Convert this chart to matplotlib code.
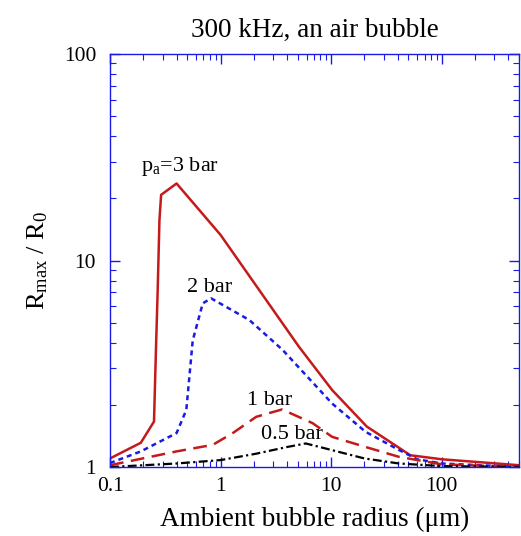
import numpy as np
import matplotlib
matplotlib.use('Agg')
import matplotlib.pyplot as plt
from matplotlib.ticker import LogLocator, FixedLocator, NullFormatter

plt.rcParams['font.family'] = 'Liberation Serif'
plt.rcParams['mathtext.fontset'] = 'custom'
plt.rcParams['mathtext.rm'] = 'Liberation Serif'
plt.rcParams['mathtext.it'] = 'Liberation Serif:italic'

# ambient radius (um) vs Rmax/R0 for each acoustic pressure amplitude
r_3bar = [0.1, 0.19, 0.25, 0.26, 0.27, 0.28, 0.29, 0.40, 1.0, 5.1, 10.2, 21, 52, 100, 500]
v_3bar = [1.1, 1.31, 1.66, 3.6, 7.2, 15.7, 20.8, 23.6, 13.3, 3.83, 2.36, 1.57, 1.14, 1.09, 1.02]

r_2bar = [0.1, 0.19, 0.40, 0.49, 0.56, 0.69, 0.82, 1.82, 3.64, 10.2, 20.5, 41, 60, 100, 500]
v_2bar = [1.045, 1.19, 1.46, 1.89, 4.1, 6.2, 6.56, 5.15, 3.69, 2.03, 1.48, 1.21, 1.09, 1.04, 1.0]

r_1bar = [0.1, 0.4, 0.85, 1.29, 2.1, 3.6, 6.8, 10.2, 20.5, 41, 100, 500]
v_1bar = [1.02, 1.19, 1.28, 1.46, 1.75, 1.9, 1.63, 1.4, 1.25, 1.12, 1.03, 1.0]

r_05bar = [0.1, 0.4, 1.0, 2.1, 4.0, 5.9, 10, 20, 41, 100, 500]
v_05bar = [1.0, 1.04, 1.08, 1.16, 1.25, 1.3, 1.21, 1.10, 1.04, 1.01, 1.0]

red = '#c41a1a'
blue = '#1a1ae6'

fig = plt.figure(figsize=(5.21, 5.36), dpi=100)
ax = fig.add_axes([110/521, 1 - 467/536, 409/521, 413/536])

ax.plot(r_3bar, v_3bar, '-', color=red, lw=1.8)
ax.plot(r_2bar, v_2bar, color=blue, lw=1.8, dashes=(2.0, 1.6))
ax.plot(r_1bar, v_1bar, color=red, lw=1.8, dashes=(5.5, 3.0))
ax.plot(r_05bar, v_05bar, color='black', lw=1.6, dashes=(4.0, 1.5, 1.0, 1.5))

ax.set_xscale('log')
ax.set_yscale('log')
ax.set_xlim(0.1, 500)
ax.set_ylim(1, 100)

ax.xaxis.set_major_locator(FixedLocator([0.1, 1, 10, 100]))
ax.set_xticklabels(['0.1', '1', '10', '100'])
ax.yaxis.set_major_locator(FixedLocator([1, 10, 100]))
ax.set_yticklabels(['1', '10', '100'])
ax.xaxis.set_minor_locator(LogLocator(base=10, subs=np.arange(2, 10), numticks=20))
ax.yaxis.set_minor_locator(LogLocator(base=10, subs=np.arange(2, 10), numticks=20))
ax.xaxis.set_minor_formatter(NullFormatter())
ax.yaxis.set_minor_formatter(NullFormatter())

for s in ax.spines.values():
    s.set_color(blue)
    s.set_linewidth(1.0)
ax.tick_params(which='both', direction='in', top=True, right=True, color=blue,
               labelsize=15.5, labelcolor='black')
ax.tick_params(which='major', length=7, width=1.0)
ax.tick_params(which='minor', length=4, width=0.8)
ax.tick_params(axis='y', which='major', pad=10)
ax.tick_params(axis='x', which='major', pad=7)

ax.set_title('300 kHz, an air bubble', fontsize=19.5, pad=12)
ax.set_xlabel('Ambient bubble radius (μm)', fontsize=19.5, labelpad=8)
ax.set_ylabel(r'R$_{\rm max}$ / R$_{\rm 0}$', fontsize=19, labelpad=10)

ax.text(0.19, 28.4, r'p$_{\rm a}$=3 bar', fontsize=16, ha='left', va='center')
ax.text(0.5, 7.4, '2 bar', fontsize=16, ha='left', va='center')
ax.text(1.75, 2.11, '1 bar', fontsize=16, ha='left', va='center')
ax.text(2.34, 1.43, '0.5 bar', fontsize=16, ha='left', va='center')

fig.savefig('out.png', dpi=100)
